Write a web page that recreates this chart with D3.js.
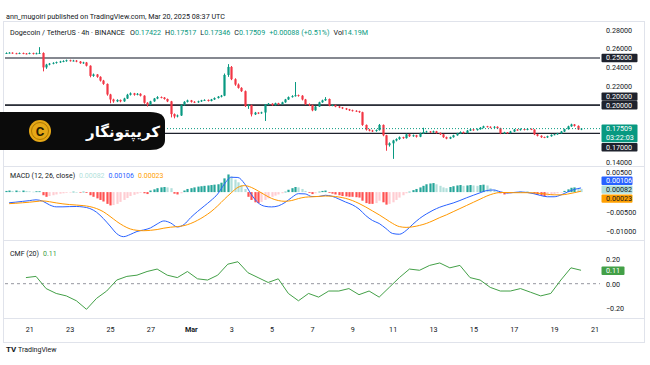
<!DOCTYPE html>
<html><head><meta charset="utf-8">
<script src="https://cdn.jsdelivr.net/npm/d3@7"></script>
<style>body{margin:0;background:#fff}svg{display:block}text{font-family:Roboto,"DejaVu Sans",sans-serif}</style>
</head><body><svg id="c" width="650" height="365"></svg>
<script>
// ---------------- DATA ----------------
const firstCandle = Date.UTC(2025,1,19,20);   // 4h candles
const firstOpen = 0.2548;
const closes = [0.2552,0.2556,0.2549,0.2546,0.2553,0.2547,0.2545,0.2551,0.2543,0.2549,0.2553,
0.2400,0.2430,0.2440,0.2448,0.2455,0.2462,0.2468,0.2475,0.2470,0.2472,
0.2462,0.2445,0.2452,0.2418,0.2310,0.2325,0.2300,0.2260,0.2225,0.2113,
0.2060,0.2040,0.2055,0.2040,0.2070,0.2110,0.2125,0.2110,0.2120,0.2100,
0.2025,0.2005,0.2040,0.2070,0.2085,0.2080,0.2065,0.2040,0.1905,0.1880,
0.1890,0.2000,0.2035,0.2050,0.2035,0.2030,0.2040,0.2050,0.2055,0.2045,
0.2060,0.2075,0.2090,0.2100,0.2320,0.2405,0.2275,0.2218,0.2183,0.2148,
0.1990,0.2000,0.1902,0.1920,0.1915,0.1922,0.2007,0.2015,0.2000,0.2020,
0.2010,0.2030,0.2060,0.2085,0.2095,0.2105,0.2100,0.2060,0.2010,0.2000,
0.1945,0.1985,0.2030,0.2050,0.2065,0.1995,0.2000,0.1985,0.1975,0.1965,
0.1955,0.1945,0.1940,0.1935,0.1925,0.1790,0.1740,0.1730,0.1725,0.1735,
0.1790,0.1680,0.1575,0.1595,0.1625,0.1640,0.1660,0.1650,0.1690,0.1670,
0.1680,0.1665,0.1700,0.1715,0.1720,0.1712,0.1722,0.1705,0.1690,0.1660,
0.1645,0.1660,0.1680,0.1700,0.1715,0.1705,0.1730,0.1742,0.1735,0.1745,
0.1760,0.1775,0.1770,0.1762,0.1770,0.1755,0.1700,0.1710,0.1705,0.1720,
0.1740,0.1735,0.1745,0.1738,0.1748,0.1740,0.1690,0.1675,0.1660,0.1658,
0.1670,0.1685,0.1690,0.1700,0.1720,0.1745,0.1775,0.1795,0.1780,0.17422,0.17509];
const highs = [0.2560,0.2562,0.2560,0.2555,0.2558,0.2557,0.2553,0.2558,0.2556,0.2557,0.2615,
0.2560,0.2438,0.2447,0.2455,0.2462,0.2470,0.2476,0.2483,0.2482,0.2480,
0.2478,0.2468,0.2460,0.2458,0.2422,0.2335,0.2330,0.2306,0.2268,0.2230,
0.2120,0.2068,0.2062,0.2060,0.2078,0.2120,0.2135,0.2130,0.2128,0.2126,
0.2105,0.2032,0.2046,0.2076,0.2095,0.2092,0.2086,0.2070,0.2045,0.1912,
0.1900,0.2008,0.2042,0.2058,0.2055,0.2042,0.2047,0.2056,0.2062,0.2060,
0.2066,0.2082,0.2096,0.2108,0.2335,0.2435,0.2415,0.2285,0.2230,0.2190,
0.2155,0.2010,0.2005,0.1928,0.1925,0.1930,0.2012,0.2022,0.2020,0.2026,
0.2025,0.2036,0.2066,0.2092,0.2105,0.2245,0.2112,0.2106,0.2066,0.2018,
0.2005,0.1992,0.2036,0.2058,0.2085,0.2070,0.2008,0.2005,0.1990,0.1980,
0.1970,0.1960,0.1952,0.1946,0.1940,0.1930,0.1795,0.1748,0.1738,0.1742,
0.1800,0.1795,0.1685,0.1605,0.1632,0.1648,0.1668,0.1665,0.1698,0.1695,
0.1688,0.1685,0.1708,0.1760,0.1728,0.1725,0.1730,0.1727,0.1710,0.1695,
0.1666,0.1666,0.1686,0.1706,0.1722,0.1720,0.1736,0.1750,0.1748,0.1752,
0.1767,0.1782,0.1780,0.1775,0.1777,0.1775,0.1760,0.1717,0.1715,0.1727,
0.1747,0.1746,0.1752,0.1750,0.1755,0.1752,0.1745,0.1695,0.1680,0.1666,
0.1676,0.1690,0.1696,0.1706,0.1726,0.1750,0.1782,0.1803,0.1800,0.1785,0.17517];
const lows = [0.2542,0.2547,0.2544,0.2540,0.2541,0.2540,0.2538,0.2540,0.2537,0.2539,0.2542,
0.2358,0.2385,0.2422,0.2433,0.2440,0.2448,0.2455,0.2460,0.2462,0.2463,
0.2455,0.2438,0.2438,0.2410,0.2295,0.2300,0.2290,0.2250,0.2215,0.2100,
0.2020,0.2025,0.2032,0.2030,0.2035,0.2065,0.2102,0.2100,0.2104,0.2092,
0.2015,0.1985,0.2000,0.2035,0.2063,0.2072,0.2058,0.2032,0.1870,0.1860,
0.1870,0.1885,0.1995,0.2028,0.2027,0.2022,0.2024,0.2034,0.2045,0.2038,
0.2040,0.2055,0.2070,0.2082,0.2095,0.2300,0.2265,0.2205,0.2175,0.2140,
0.1980,0.1960,0.1880,0.1895,0.1905,0.1908,0.1832,0.2000,0.1993,0.1995,
0.2003,0.2005,0.2025,0.2055,0.2080,0.2090,0.2090,0.2050,0.2002,0.1990,
0.1935,0.1940,0.1980,0.2025,0.2045,0.1988,0.1988,0.1978,0.1968,0.1958,
0.1948,0.1938,0.1932,0.1928,0.1918,0.1780,0.1730,0.1722,0.1715,0.1718,
0.1730,0.1670,0.1516,0.1560,0.1430,0.1615,0.1632,0.1642,0.1645,0.1662,
0.1664,0.1656,0.1660,0.1695,0.1708,0.1705,0.1706,0.1698,0.1683,0.1652,
0.1638,0.1640,0.1655,0.1675,0.1695,0.1698,0.1700,0.1725,0.1728,0.1730,
0.1740,0.1755,0.1763,0.1755,0.1757,0.1748,0.1692,0.1694,0.1698,0.1700,
0.1715,0.1728,0.1730,0.1732,0.1733,0.1735,0.1682,0.1668,0.1652,0.1650,
0.1652,0.1665,0.1680,0.1685,0.1696,0.1715,0.1740,0.1770,0.1772,0.1736,0.17346];
// MACD histogram, one value per candle
const macdHist = [0.0003,0.0004,0.0003,0.0004,0.0003,0.0004,0.0003,0.0002,0.0001,0.0002,0.0002,
-0.0008,-0.0012,-0.0010,-0.0008,-0.0006,-0.0004,-0.0003,-0.0002,-0.0001,0.0001,
0.0000,-0.0001,0.0001,-0.0002,-0.0008,-0.0012,-0.0016,-0.0020,-0.0024,-0.0030,
-0.0034,-0.0033,-0.0030,-0.0025,-0.0020,-0.0015,-0.0010,-0.0007,-0.0004,-0.0002,
-0.0003,-0.0005,0.0004,0.0007,0.0010,0.0012,0.0013,0.0012,0.0010,-0.0004,
-0.0006,-0.0003,0.0004,0.0008,0.0010,0.0012,0.0014,0.0015,0.0016,0.0017,
0.0018,0.0019,0.0020,0.0024,0.0035,0.0045,0.0040,0.0032,0.0025,0.0018,
0.0008,-0.0012,-0.0020,-0.0026,-0.0028,-0.0025,-0.0020,-0.0016,-0.0012,-0.0009,
-0.0006,-0.0003,0.0001,0.0006,0.0010,0.0013,0.0012,0.0008,0.0003,-0.0002,
-0.0005,-0.0003,0.0001,0.0003,0.0004,-0.0002,-0.0004,-0.0006,-0.0008,-0.0010,
-0.0011,-0.0012,-0.0012,-0.0013,-0.0014,-0.0022,-0.0028,-0.0030,-0.0030,-0.0028,
-0.0022,-0.0026,-0.0032,-0.0030,-0.0026,-0.0020,-0.0014,-0.0008,-0.0003,0.0001,
0.0005,0.0008,0.0012,0.0016,0.0020,0.0022,0.0023,0.0020,0.0016,0.0012,
0.0010,0.0013,0.0015,0.0017,0.0018,0.0016,0.0017,0.0018,0.0017,0.0016,
0.0018,0.0019,0.0017,0.0010,0.0006,0.0002,-0.0003,-0.0006,-0.0005,-0.0004,
-0.0002,0.0000,0.0001,0.0000,0.0001,0.0000,-0.0004,-0.0007,-0.0009,-0.0010,
-0.0009,-0.0007,-0.0005,-0.0003,-0.0001,0.0003,0.0007,0.0011,0.0012,0.0010,0.00082];
// MACD & signal lines, sampled every 2nd candle (candles 1,3,5,...,171)
const macdLine = [-0.00272,-0.00256,-0.00237,-0.00218,-0.00197,-0.00232,-0.00326,-0.00376,-0.00376,-0.00370,
-0.00367,-0.00380,-0.00418,-0.00514,-0.00673,-0.00864,-0.01060,-0.01137,-0.01082,-0.01005,
-0.00966,-0.00915,-0.00813,-0.00736,-0.00787,-0.00890,-0.00826,-0.00648,-0.00495,-0.00355,
-0.00214,-0.00048,0.00207,0.00379,0.00373,0.00213,-0.00061,-0.00272,-0.00361,-0.00378,
-0.00352,-0.00265,-0.00138,-0.00040,-0.00046,-0.00113,-0.00113,-0.00081,-0.00106,-0.00176,
-0.00253,-0.00323,-0.00431,-0.00597,-0.00724,-0.00801,-0.00928,-0.01056,-0.01075,-0.00980,
-0.00820,-0.00674,-0.00559,-0.00463,-0.00386,-0.00329,-0.00278,-0.00214,-0.00144,-0.00080,
-0.00017,0.00041,0.00054,0.00009,-0.00023,-0.00010,0.00003,-0.00010,-0.00042,-0.00087,
-0.00119,-0.00119,-0.00074,0.00003,0.00067,0.00106];
const signalLine = [-0.00295,-0.00285,-0.00272,-0.00258,-0.00240,-0.00225,-0.00245,-0.00275,-0.00300,-0.00318,
-0.00330,-0.00345,-0.00370,-0.00420,-0.00500,-0.00620,-0.00750,-0.00860,-0.00940,-0.00975,
-0.00985,-0.00975,-0.00955,-0.00920,-0.00895,-0.00880,-0.00855,-0.00800,-0.00720,-0.00620,
-0.00500,-0.00350,-0.00180,-0.00020,0.00120,0.00165,0.00120,0.00030,-0.00070,-0.00160,
-0.00215,-0.00235,-0.00215,-0.00165,-0.00130,-0.00120,-0.00110,-0.00100,-0.00105,-0.00125,
-0.00160,-0.00215,-0.00290,-0.00380,-0.00480,-0.00580,-0.00690,-0.00800,-0.00880,-0.00900,
-0.00885,-0.00850,-0.00800,-0.00730,-0.00650,-0.00580,-0.00500,-0.00420,-0.00340,-0.00260,
-0.00180,-0.00100,-0.00040,-0.00010,-0.00010,-0.00015,-0.00015,-0.00015,-0.00020,-0.00035,
-0.00055,-0.00070,-0.00070,-0.00050,-0.00015,0.00023];
// CMF(20), sampled every 3rd candle starting at candle 6
const cmfValues = [0.05,0.06,-0.04,-0.08,-0.10,-0.14,-0.21,-0.12,-0.06,0.03,
0.06,0.07,0.10,0.12,0.07,0.05,0.10,0.04,0.03,0.07,
0.16,0.18,0.09,0.05,0.01,0.04,-0.08,-0.14,-0.08,-0.11,
-0.06,-0.06,-0.04,-0.09,-0.06,-0.11,-0.03,0.05,0.12,0.11,
0.15,0.17,0.13,0.15,0.05,0.03,-0.03,-0.06,-0.06,-0.04,
-0.07,-0.10,-0.08,0.03,0.13,0.11];
const levelLines = [0.25, 0.20, 0.20, 0.17];
const priceTicks = [0.28,0.26,0.24,0.22,0.14];
const macdTicks = [0.005,-0.005,-0.01];
const cmfTicks = [0.2,0,-0.2];
const xTickDates = [[1,21],[1,23],[1,25],[1,27],[2,1],[2,3],[2,5],[2,7],[2,9],[2,11],[2,13],[2,15],[2,17],[2,19],[2,21]];
const xTickLabels = ["21","23","25","27","Mar","3","5","7","9","11","13","15","17","19","21"];
const lastPrice = 0.17509, countdown = "03:22:03";
const changeText = "+0.00088 (+0.51%)", volText = "14.19M";
const lastMacd = 0.00106, lastSignal = 0.00023, lastHist = 0.00082, lastCmf = 0.11;

// ---------------- CHART ----------------
const svg = d3.select("#c");
const H4 = 4*3600*1000;
const opens = [firstOpen].concat(closes.slice(0, -1));
const candles = closes.map((c,i)=>({t:new Date(firstCandle+i*H4), o:opens[i], h:highs[i], l:lows[i], c}));
const UP="#089981", DN="#f23645", TXT="#131722";
const L=5, R=600;

const x = d3.scaleUtc().domain([new Date(Date.UTC(2025,1,21)), new Date(Date.UTC(2025,2,21))]).range([29.3,594.5]);
const yP = d3.scaleLinear().domain([0.14,0.28]).range([161.7,29.7]);
const yM = d3.scaleLinear().domain([-0.01,0.005]).range([231.3,172.5]);
const yC = d3.scaleLinear().domain([-0.2,0.2]).range([308.1,259.3]);

const defs = svg.append("defs");
defs.append("clipPath").attr("id","cp").append("rect").attr("x",L).attr("y",22).attr("width",R-L).attr("height",144);
defs.append("clipPath").attr("id","cm").append("rect").attr("x",L).attr("y",167).attr("width",R-L).attr("height",73);
defs.append("clipPath").attr("id","cc").append("rect").attr("x",L).attr("y",241).attr("width",R-L).attr("height",77);

// frame / separators
const frame = svg.append("g").attr("stroke","#e0e3eb").attr("fill","none");
frame.append("rect").attr("x",3.5).attr("y",21.5).attr("width",641).attr("height",321);
[166.5,240.5,318.5].forEach(v=>frame.append("line").attr("x1",3.5).attr("x2",644.5).attr("y1",v).attr("y2",v));

// header
svg.append("text").attr("x",6).attr("y",18.5).attr("font-size",7.2).attr("fill",TXT)
  .text("ann_mugoiri published on TradingView.com, Mar 20, 2025 08:37 UTC");
const leg = svg.append("text").attr("x",10).attr("y",34.5).attr("font-size",7.2).attr("fill",TXT);
leg.append("tspan").text("Dogecoin / TetherUS · 4h · BINANCE");
const last = candles[candles.length-1];
const fmt5 = d3.format(".5f");
[["O",last.o],["H",last.h],["L",last.l],["C",last.c]].forEach(([k,v],i)=>{
  leg.append("tspan").attr("dx", i===0?5:4).text(k);
  leg.append("tspan").attr("fill",UP).text(fmt5(v));
});
leg.append("tspan").attr("dx",4).attr("fill",UP).text(changeText);
leg.append("tspan").attr("dx",4).text("Vol");
leg.append("tspan").attr("fill",UP).text(volText);

// level lines
const gp = svg.append("g").attr("clip-path","url(#cp)");
gp.selectAll("line.lv").data(levelLines).join("line")
  .attr("x1",L).attr("x2",R).attr("y1",d=>yP(d)).attr("y2",d=>yP(d))
  .attr("stroke",(d,i)=>i===0?"#5d606b":"#1e222d").attr("stroke-width",1.3);
// candles
const cg = gp.append("g");
cg.selectAll("line.w").data(candles).join("line")
  .attr("x1",d=>Math.round(x(d.t))+0.5).attr("x2",d=>Math.round(x(d.t))+0.5)
  .attr("y1",d=>yP(d.h)).attr("y2",d=>yP(d.l))
  .attr("stroke",d=>d.c>=d.o?UP:DN).attr("stroke-width",1);
cg.selectAll("rect").data(candles).join("rect")
  .attr("x",d=>Math.round(x(d.t))-0.6).attr("width",2.2)
  .attr("y",d=>yP(Math.max(d.o,d.c))).attr("height",d=>Math.max(0.8,Math.abs(yP(d.o)-yP(d.c))))
  .attr("fill",d=>d.c>=d.o?UP:DN);
// last price line
svg.append("line").attr("x1",L).attr("x2",R).attr("y1",yP(lastPrice)).attr("y2",yP(lastPrice))
  .attr("stroke",UP).attr("stroke-dasharray","1,2").attr("stroke-width",1);

// price axis
const pAx = svg.append("g").attr("transform","translate(606,0)")
  .call(d3.axisRight(yP).tickValues(priceTicks).tickFormat(fmt5).tickSize(0).tickPadding(0));
pAx.select(".domain").remove();
pAx.selectAll("text").attr("font-size",7.2).attr("fill",TXT);

function box(yc, h, fill, lines, color, w){
  const g = svg.append("g");
  g.append("rect").attr("x",601.5).attr("y",yc-h/2).attr("width",w||36).attr("height",h).attr("fill",fill).attr("rx",1);
  lines.forEach((t,i)=>g.append("text").attr("x",606).attr("y",yc-h/2+6.6+i*8.3).attr("font-size",7.2).attr("fill",color).text(t));
}
box(yP(0.25), 8.4, "#1e222d", [fmt5(0.25)], "#fff");
box(96.6, 8.4, "#1e222d", [fmt5(0.20)], "#fff");
box(105.2, 8.4, "#1e222d", [fmt5(0.20)], "#fff");
box(133.4, 17.6, UP, [fmt5(lastPrice), countdown], "#fff");
box(147.3, 8.4, "#1e222d", [fmt5(0.17)], "#fff");

// ---- MACD ----
const gm = svg.append("g").attr("clip-path","url(#cm)");
gm.selectAll("rect").data(macdHist).join("rect")
  .attr("x",(d,i)=>Math.round(x(candles[i].t))-0.6).attr("width",2.2)
  .attr("y",d=>Math.min(yM(0),yM(d))).attr("height",d=>Math.max(0.6,Math.abs(yM(d)-yM(0))))
  .attr("fill",(d,i)=>{const p=i>0?macdHist[i-1]:d; return d>=0?(d>=p?"#26a69a":"#b2dfdb"):(d<=p?"#ff5252":"#ffcdd2");});
const lineX = (d,k)=>x(candles[Math.min(2*k+1,candles.length-1)].t);
gm.append("path").datum(macdLine).attr("fill","none").attr("stroke","#2962ff").attr("stroke-width",1)
  .attr("d",d3.line().x(lineX).y(d=>yM(d)).curve(d3.curveMonotoneX));
gm.append("path").datum(signalLine).attr("fill","none").attr("stroke","#ff9800").attr("stroke-width",1)
  .attr("d",d3.line().x(lineX).y(d=>yM(d)).curve(d3.curveMonotoneX));
const mAx = svg.append("g").attr("transform","translate(606,0)")
  .call(d3.axisRight(yM).tickValues(macdTicks).tickFormat(fmt5).tickSize(0).tickPadding(0));
mAx.select(".domain").remove();
mAx.selectAll("text").attr("font-size",7.2).attr("fill",TXT);
box(180.8, 8.4, "#2962ff", [fmt5(lastMacd)], "#fff", 31);
box(189.6, 8.4, "#b2dfdb", [fmt5(lastHist)], TXT, 31);
box(198.6, 8.4, "#ffa000", [fmt5(lastSignal)], TXT, 31);
const mt = svg.append("text").attr("x",10).attr("y",178).attr("font-size",7).attr("fill",TXT);
mt.append("tspan").text("MACD (12, 26, close)");
mt.append("tspan").attr("dx",4).attr("fill","#b2dfdb").text(fmt5(lastHist));
mt.append("tspan").attr("dx",4).attr("fill","#2962ff").text(fmt5(lastMacd));
mt.append("tspan").attr("dx",4).attr("fill","#ffa000").text(fmt5(lastSignal));

// ---- CMF ----
const gc = svg.append("g").attr("clip-path","url(#cc)");
gc.append("line").attr("x1",L).attr("x2",603).attr("y1",yC(0)).attr("y2",yC(0))
  .attr("stroke","#787b86").attr("stroke-dasharray","3,3").attr("stroke-width",0.8);
gc.append("path").datum(cmfValues).attr("fill","none").attr("stroke","#43a047").attr("stroke-width",1)
  .attr("d",d3.line().x((d,k)=>x(candles[6+3*k].t)).y(d=>yC(d)));
const cAx = svg.append("g").attr("transform","translate(606,0)")
  .call(d3.axisRight(yC).tickValues(cmfTicks).tickFormat(d3.format(".2f")).tickSize(0).tickPadding(0));
cAx.select(".domain").remove();
cAx.selectAll("text").attr("font-size",7.2).attr("fill",TXT);
box(yC(lastCmf)+0.5, 8.4, "#43a047", [d3.format(".2f")(lastCmf)], "#fff", 23);
const ct = svg.append("text").attr("x",10).attr("y",256).attr("font-size",7).attr("fill",TXT);
ct.append("tspan").text("CMF (20)");
ct.append("tspan").attr("dx",4).attr("fill","#43a047").text(d3.format(".2f")(lastCmf));

// ---- X axis ----
const xd = xTickDates.map(([m,d])=>new Date(Date.UTC(2025,m,d)));
const xAx = svg.append("g").attr("transform","translate(0,327)")
  .call(d3.axisBottom(x).tickValues(xd).tickFormat((d,i)=>xTickLabels[i]).tickSize(0).tickPadding(0));
xAx.select(".domain").remove();
xAx.selectAll("text").attr("font-size",7.2).attr("fill",TXT).attr("font-weight",(d,i)=>xTickLabels[i]==="Mar"?"bold":null);

// TradingView footer
svg.append("text").attr("x",6).attr("y",352).attr("font-size",8).attr("font-weight","bold").attr("fill",TXT).text("TV");
svg.append("text").attr("x",18).attr("y",352).attr("font-size",7).attr("fill",TXT).text("TradingView");

// ---- overlay logo ----
const lg = svg.append("g");
lg.append("path").attr("d","M0,112 L150,112 Q165,112 165,122 L165,140 Q165,150 150,150 L0,150 Z").attr("fill","#0b0b0b");
lg.append("circle").attr("cx",40).attr("cy",131).attr("r",11).attr("fill","#e6a817");
lg.append("circle").attr("cx",40).attr("cy",131).attr("r",8.5).attr("fill","none").attr("stroke","#b07a00").attr("stroke-width",1);
lg.append("text").attr("x",40).attr("y",135.5).attr("text-anchor","middle").attr("font-size",13).attr("font-weight","bold").attr("fill","#2a1d00").text("C");
lg.append("text").attr("x",160).attr("y",137).attr("text-anchor","end").attr("font-size",15).attr("font-weight","bold").attr("fill","#fff").attr("font-family","DejaVu Sans").text("کریپتونگار");
</script></body></html>
